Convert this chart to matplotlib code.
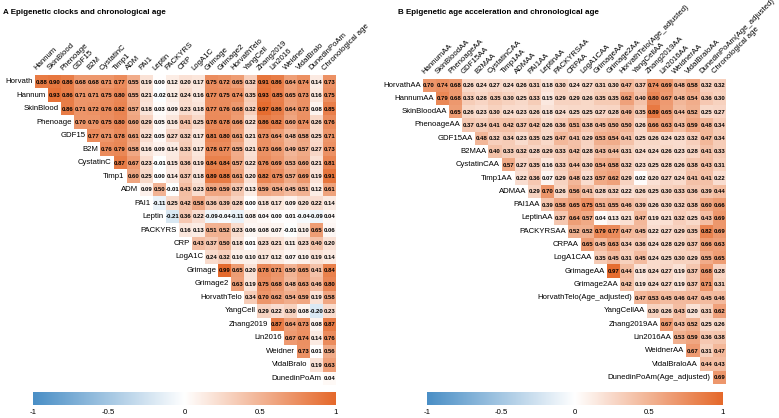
import numpy as np
import matplotlib
matplotlib.use("Agg")
import matplotlib.pyplot as plt
from matplotlib.colors import LinearSegmentedColormap

plt.rcParams['font.family'] = ['Liberation Sans', 'DejaVu Sans']

# ---- panel A: epigenetic clocks ----
clock_rows_lab = ["Horvath", "Hannum", "SkinBlood", "Phenoage", "GDF15", "B2M", "CystatinC",
                  "Timp1", "ADM", "PAI1", "Leptin", "PACKYRS", "CRP", "LogA1C", "Grimage",
                  "Grimage2", "HorvathTelo", "YangCell", "Zhang2019", "Lin2016", "Weidner",
                  "VidalBralo", "DunedinPoAm"]
clock_cols_lab = clock_rows_lab[1:] + ["Chronological age"]
clock_vals = [
    [0.88, 0.90, 0.86, 0.68, 0.68, 0.71, 0.77, 0.55, 0.19, 0.00, 0.12, 0.20, 0.17, 0.75, 0.72, 0.65, 0.32, 0.91, 0.86, 0.64, 0.74, 0.14, 0.73],
    [0.93, 0.86, 0.71, 0.71, 0.75, 0.80, 0.55, 0.21, -0.02, 0.12, 0.24, 0.16, 0.77, 0.75, 0.74, 0.35, 0.93, 0.85, 0.65, 0.73, 0.16, 0.75],
    [0.86, 0.71, 0.72, 0.76, 0.82, 0.57, 0.18, 0.03, 0.09, 0.23, 0.18, 0.77, 0.76, 0.68, 0.32, 0.97, 0.86, 0.64, 0.73, 0.08, 0.85],
    [0.70, 0.70, 0.75, 0.80, 0.60, 0.29, 0.05, 0.16, 0.41, 0.25, 0.78, 0.78, 0.66, 0.22, 0.86, 0.82, 0.60, 0.74, 0.26, 0.76],
    [0.77, 0.71, 0.78, 0.61, 0.22, 0.05, 0.27, 0.32, 0.17, 0.81, 0.80, 0.61, 0.21, 0.73, 0.64, 0.48, 0.58, 0.25, 0.71],
    [0.76, 0.79, 0.58, 0.16, 0.09, 0.14, 0.33, 0.17, 0.78, 0.77, 0.55, 0.21, 0.73, 0.66, 0.49, 0.57, 0.27, 0.73],
    [0.87, 0.67, 0.23, -0.01, 0.15, 0.36, 0.19, 0.84, 0.84, 0.57, 0.22, 0.76, 0.69, 0.53, 0.60, 0.21, 0.81],
    [0.60, 0.25, 0.00, 0.14, 0.37, 0.18, 0.89, 0.88, 0.61, 0.20, 0.82, 0.75, 0.57, 0.69, 0.19, 0.91],
    [0.09, 0.50, -0.01, 0.43, 0.23, 0.59, 0.59, 0.37, 0.13, 0.59, 0.54, 0.45, 0.51, 0.12, 0.61],
    [-0.11, 0.25, 0.42, 0.58, 0.36, 0.39, 0.28, 0.00, 0.18, 0.17, 0.09, 0.20, 0.22, 0.14],
    [-0.21, 0.36, 0.22, -0.09, -0.04, -0.11, 0.08, 0.04, 0.00, 0.01, -0.04, -0.09, 0.04],
    [0.16, 0.13, 0.51, 0.52, 0.23, 0.06, 0.08, 0.07, -0.01, 0.10, 0.65, 0.06],
    [0.43, 0.37, 0.50, 0.18, 0.01, 0.23, 0.21, 0.11, 0.23, 0.40, 0.20],
    [0.24, 0.32, 0.10, 0.10, 0.17, 0.12, 0.07, 0.10, 0.19, 0.14],
    [0.99, 0.65, 0.20, 0.78, 0.71, 0.50, 0.65, 0.41, 0.84],
    [0.63, 0.19, 0.75, 0.68, 0.48, 0.63, 0.46, 0.80],
    [0.34, 0.70, 0.62, 0.54, 0.59, 0.19, 0.58],
    [0.29, 0.22, 0.30, 0.08, -0.20, 0.23],
    [0.87, 0.64, 0.73, 0.08, 0.87],
    [0.67, 0.74, 0.14, 0.76],
    [0.73, 0.01, 0.56],
    [0.19, 0.63],
    [0.04],
]

# ---- panel B: age acceleration ----
accel_rows_lab = ["HorvathAA", "HannumAA", "SkinBloodAA", "PhenoageAA", "GDF15AA", "B2MAA",
                  "CystatinCAA", "Timp1AA", "ADMAA", "PAI1AA", "LeptinAA", "PACKYRSAA", "CRPAA",
                  "LogA1CAA", "GrimageAA", "Grimage2AA", "HorvathTelo(Age_adjusted)", "YangCellAA",
                  "Zhang2019AA", "Lin2016AA", "WeidnerAA", "VidalBraloAA", "DunedinPoAm(Age_adjusted)"]
accel_cols_lab = accel_rows_lab[1:] + ["Chronological age"]
accel_vals = [
    [0.70, 0.74, 0.68, 0.26, 0.24, 0.27, 0.24, 0.26, 0.31, 0.18, 0.30, 0.24, 0.27, 0.31, 0.30, 0.47, 0.37, 0.74, 0.69, 0.48, 0.58, 0.32, 0.32],
    [0.79, 0.68, 0.33, 0.28, 0.35, 0.30, 0.25, 0.33, 0.15, 0.29, 0.29, 0.26, 0.35, 0.35, 0.62, 0.40, 0.80, 0.67, 0.48, 0.54, 0.36, 0.30],
    [0.65, 0.26, 0.23, 0.30, 0.24, 0.23, 0.26, 0.18, 0.24, 0.25, 0.25, 0.27, 0.28, 0.49, 0.35, 0.89, 0.65, 0.44, 0.52, 0.25, 0.27],
    [0.37, 0.34, 0.41, 0.42, 0.37, 0.42, 0.26, 0.36, 0.51, 0.38, 0.45, 0.50, 0.50, 0.26, 0.66, 0.63, 0.43, 0.59, 0.48, 0.34],
    [0.48, 0.32, 0.34, 0.23, 0.35, 0.25, 0.47, 0.41, 0.29, 0.53, 0.54, 0.41, 0.25, 0.26, 0.24, 0.23, 0.32, 0.47, 0.34],
    [0.40, 0.33, 0.32, 0.28, 0.29, 0.33, 0.42, 0.28, 0.43, 0.44, 0.31, 0.24, 0.24, 0.26, 0.23, 0.28, 0.41, 0.33],
    [0.57, 0.27, 0.35, 0.16, 0.33, 0.44, 0.30, 0.54, 0.58, 0.32, 0.23, 0.25, 0.28, 0.26, 0.38, 0.43, 0.31],
    [0.22, 0.36, 0.07, 0.29, 0.48, 0.23, 0.57, 0.62, 0.29, 0.02, 0.20, 0.27, 0.24, 0.41, 0.41, 0.22],
    [0.29, 0.70, 0.26, 0.56, 0.41, 0.28, 0.32, 0.22, 0.26, 0.25, 0.30, 0.33, 0.36, 0.39, 0.44],
    [0.39, 0.58, 0.65, 0.75, 0.51, 0.55, 0.46, 0.39, 0.26, 0.30, 0.32, 0.38, 0.60, 0.66],
    [0.37, 0.64, 0.57, 0.04, 0.13, 0.21, 0.47, 0.19, 0.21, 0.32, 0.25, 0.43, 0.69],
    [0.52, 0.52, 0.79, 0.77, 0.47, 0.45, 0.22, 0.27, 0.29, 0.35, 0.82, 0.69],
    [0.65, 0.45, 0.63, 0.34, 0.36, 0.24, 0.28, 0.29, 0.37, 0.66, 0.63],
    [0.35, 0.45, 0.31, 0.45, 0.24, 0.25, 0.30, 0.29, 0.55, 0.65],
    [0.97, 0.44, 0.18, 0.24, 0.27, 0.19, 0.37, 0.68, 0.28],
    [0.42, 0.19, 0.24, 0.27, 0.19, 0.37, 0.71, 0.31],
    [0.47, 0.53, 0.45, 0.46, 0.47, 0.45, 0.46],
    [0.30, 0.26, 0.43, 0.20, 0.31, 0.62],
    [0.67, 0.43, 0.52, 0.25, 0.26],
    [0.53, 0.59, 0.36, 0.38],
    [0.67, 0.31, 0.47],
    [0.44, 0.43],
    [0.69],
]

W, H = 779, 418
cmap = LinearSegmentedColormap.from_list("bwo", ["#4A8FC6", "#FFFFFF", "#E5692B"])

fig = plt.figure(figsize=(W / 100, H / 100), dpi=100)


def px_axes(x0, y0, x1, y1):
    # pixel box (top-left origin) -> figure axes
    return fig.add_axes([x0 / W, 1 - y1 / H, (x1 - x0) / W, (y1 - y0) / H])


def draw_panel(rows_lab, cols_lab, vals, box, cbar_box, title, title_x):
    n = len(rows_lab)
    mat = np.full((n, n), np.nan)
    for i, row in enumerate(vals):
        mat[i, i:i + len(row)] = row
    ax = px_axes(*box)
    ax.pcolormesh(np.ma.masked_invalid(mat), cmap=cmap, vmin=-1, vmax=1)
    ax.set_xlim(0, n)
    ax.set_ylim(n, 0)
    ax.axis("off")
    for i, row in enumerate(vals):
        for k, v in enumerate(row):
            s = "%.2f" % v
            s = s.replace("-0.00", "0.00")
            ax.text(i + k + 0.5, i + 0.53, s, ha="center", va="center",
                    fontsize=4.3, fontweight="bold", color="black")
        ax.text(i - 0.15, i + 0.5, rows_lab[i], ha="right", va="center",
                fontsize=5.6, clip_on=False)
    for j, lab in enumerate(cols_lab):
        ax.text(j + 0.25, -0.25, lab, rotation=45, ha="left", va="bottom",
                rotation_mode="anchor", fontsize=5.6, clip_on=False)

    cax = px_axes(*cbar_box)
    cax.imshow(np.linspace(-1, 1, 256)[None, :], cmap=cmap, vmin=-1, vmax=1,
               extent=[-1, 1, 0, 1], aspect="auto")
    cax.set_yticks([])
    cax.set_xticks([-1, -0.5, 0, 0.5, 1])
    cax.set_xticklabels(["-1", "-0.5", "0", "0.5", "1"], fontsize=5.6)
    cax.tick_params(axis="x", length=0, pad=3)
    for sp in cax.spines.values():
        sp.set_visible(False)

    fig.text(title_x / W, 1 - 12 / H, title, ha="left", va="center",
             fontsize=5.8, fontweight="bold")


draw_panel(clock_rows_lab, clock_cols_lab, clock_vals,
           (35, 75, 336, 385), (33, 392, 336, 405),
           "A Epigenetic clocks and chronological age", 3)
draw_panel(accel_rows_lab, accel_cols_lab, accel_vals,
           (422.5, 78.5, 726, 384), (427, 392, 723, 405),
           "B Epigenetic age acceleration and chronological age", 398)

fig.savefig("out.png", dpi=100)
